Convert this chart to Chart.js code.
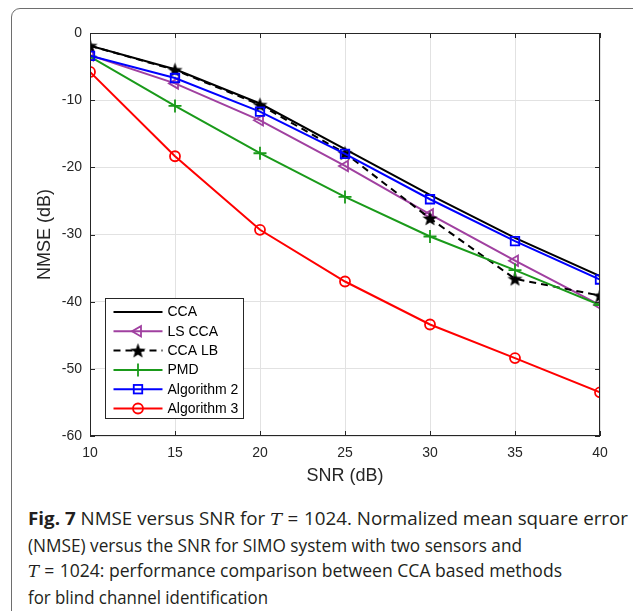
<!DOCTYPE html>
<html>
<head>
<meta charset="utf-8">
<script src="https://cdn.jsdelivr.net/npm/chart.js@4"></script>
<style>
  html, body { margin:0; padding:0; background:#fff; width:633px; height:611px; overflow:hidden; }
  #frame { position:absolute; left:11px; top:8px; width:640px; height:640px; border:1px solid #6e6e6e; border-radius:9px; box-sizing:border-box; }
  #wrap { position:absolute; left:0; top:0; width:633px; height:500px; }
  #cap { position:absolute; left:28px; top:506px; font-family:'Open Sans', sans-serif; font-size:18px; line-height:25.6px; color:#231f20; }
  #cap .ln { white-space:nowrap; width:max-content; transform-origin:0 50%; }
  #cap b { font-weight:700; }
  #cap i { font-family:'DejaVu Serif', serif; font-style:italic; font-size:17px; }
  #cap .eq { padding:0 0.3em; }
</style>
</head>
<body>
<div id="frame"></div>
<div id="wrap"><canvas id="c" width="633" height="500"></canvas></div>
<div id="cap">
  <div class="ln"><b>Fig. 7</b> NMSE versus SNR for <i>T</i><span class="eq">=</span>1024. Normalized mean square error</div>
  <div class="ln">(NMSE) versus the SNR for SIMO system with two sensors and</div>
  <div class="ln"><i>T</i><span class="eq">=</span>1024: performance comparison between CCA based methods</div>
  <div class="ln">for blind channel identification</div>
</div>
<script>
// ---- data ----
const snr = [10, 15, 20, 25, 30, 35, 40];
const seriesNames = ['CCA', 'LS CCA', 'CCA LB', 'PMD', 'Algorithm 2', 'Algorithm 3'];
const cca   = [-1.9, -5.4, -10.5, -17.3, -24.1, -30.5, -36.2];
const lsCca = [-3.3, -7.5, -13.0, -19.8, -27.0, -33.9, -40.5];
const ccaLb = [-1.9, -5.5, -10.7, -17.9, -27.6, -36.6, -39.1];
const pmd   = [-3.5, -10.85, -17.9, -24.4, -30.3, -35.3, -40.5];
const alg2  = [-3.4, -6.7, -11.7, -18.0, -24.75, -31.0, -36.7];
const alg3  = [-5.8, -18.35, -29.3, -37.0, -43.4, -48.4, -53.5];
const xTicks = [10, 15, 20, 25, 30, 35, 40];
const yTicks = [0, -10, -20, -30, -40, -50, -60];

// star marker image
function makeStar(){
  const s = 17, cv = document.createElement('canvas');
  cv.width = s; cv.height = s;
  const g = cv.getContext('2d');
  g.fillStyle = '#000';
  g.beginPath();
  const cx = s/2, cy = s/2 + 0.6, R = 8, r = 3.3;
  for (let k = 0; k < 10; k++) {
    const a = -Math.PI/2 + k*Math.PI/5;
    const rr = k % 2 ? r : R;
    const px = cx + rr*Math.cos(a), py = cy + rr*Math.sin(a);
    k ? g.lineTo(px, py) : g.moveTo(px, py);
  }
  g.closePath(); g.fill();
  return cv;
}
const starImg = makeStar();

const styles = [
  {color:'#000000', dash:[], point:false},
  {color:'#a040a0', dash:[], point:'triangle', rot:-90, r:6},
  {color:'#000000', dash:[7,5], point:starImg, r:8},
  {color:'#1a9a1a', dash:[], point:'cross', r:6.5},
  {color:'#0000ff', dash:[], point:'rect', r:6},
  {color:'#ff0000', dash:[], point:'circle', r:5}
];
const seriesData = [cca, lsCca, ccaLb, pmd, alg2, alg3];

const datasets = seriesData.map((vals, i) => {
  const st = styles[i];
  return {
    label: seriesNames[i],
    data: vals.map((v, j) => ({x: snr[j], y: v})),
    borderColor: st.color,
    backgroundColor: st.color,
    borderWidth: 2,
    borderDash: st.dash,
    pointStyle: st.point || 'circle',
    pointRadius: st.point ? st.r : 0,
    pointRotation: st.rot || 0,
    pointBorderColor: st.color,
    pointBackgroundColor: 'rgba(0,0,0,0)',
    pointBorderWidth: 1.8,
    tension: 0,
    fill: false,
    order: 5 - i
  };
});

const axisColor = '#262626';
const tickFont = {family: "'Liberation Sans', Arial, sans-serif", size: 14};
const titleFont = {family: "'Liberation Sans', Arial, sans-serif", size: 18};

function drawMarker(ctx, st, x, y) {
  ctx.save();
  ctx.strokeStyle = st.color; ctx.lineWidth = 1.8; ctx.setLineDash([]);
  if (st.point === 'triangle') {
    ctx.translate(x, y); ctx.rotate(-Math.PI/2);
    const r = st.r;
    ctx.beginPath();
    ctx.moveTo(0, -r);
    ctx.lineTo(r*Math.cos(Math.PI/6), r*0.5);
    ctx.lineTo(-r*Math.cos(Math.PI/6), r*0.5);
    ctx.closePath(); ctx.stroke();
  } else if (st.point === 'cross') {
    ctx.beginPath();
    ctx.moveTo(x - st.r, y); ctx.lineTo(x + st.r, y);
    ctx.moveTo(x, y - st.r); ctx.lineTo(x, y + st.r);
    ctx.stroke();
  } else if (st.point === 'rect') {
    const h = st.r*Math.SQRT1_2;
    ctx.strokeRect(x - h, y - h, 2*h, 2*h);
  } else if (st.point === 'circle') {
    ctx.beginPath(); ctx.arc(x, y, st.r, 0, Math.PI*2); ctx.stroke();
  } else if (st.point) {
    ctx.drawImage(st.point, x - st.point.width/2, y - st.point.height/2);
  }
  ctx.restore();
}

const boxPlugin = {
  id: 'boxPlugin',
  afterDatasetsDraw(chart) {
    const {ctx, chartArea: a, scales} = chart;
    ctx.save();
    ctx.strokeStyle = axisColor; ctx.lineWidth = 1;
    ctx.beginPath();
    ctx.moveTo(a.left + 0.5, a.top + 0.5); ctx.lineTo(a.right - 0.5, a.top + 0.5); ctx.lineTo(a.right - 0.5, a.bottom);
    ctx.moveTo(a.left + 0.5, a.top); ctx.lineTo(a.left + 0.5, a.bottom - 0.5); ctx.lineTo(a.right, a.bottom - 0.5);
    const tl = 5;
    xTicks.forEach(v => {
      const px = Math.round(scales.x.getPixelForValue(v)) + 0.5;
      ctx.moveTo(px, a.bottom); ctx.lineTo(px, a.bottom - tl);
      ctx.moveTo(px, a.top); ctx.lineTo(px, a.top + tl);
    });
    yTicks.forEach(v => {
      const py = Math.round(scales.y.getPixelForValue(v)) + 0.5;
      ctx.moveTo(a.left, py); ctx.lineTo(a.left + tl, py);
      ctx.moveTo(a.right, py); ctx.lineTo(a.right - tl, py);
    });
    ctx.stroke();

    // legend
    const lx = a.left + 15.5, ly = a.top + 265.5, lw = 138, lh = 120;
    ctx.fillStyle = '#fff';
    ctx.fillRect(lx, ly, lw, lh);
    ctx.strokeStyle = axisColor;
    ctx.strokeRect(lx, ly, lw, lh);
    ctx.font = "14px 'Liberation Sans', Arial, sans-serif";
    ctx.textBaseline = 'middle';
    seriesNames.forEach((name, i) => {
      const st = styles[i];
      const y = ly + 13.5 + i*19.3;
      ctx.strokeStyle = st.color; ctx.lineWidth = 2;
      ctx.setLineDash(st.dash);
      ctx.beginPath(); ctx.moveTo(lx + 8, y); ctx.lineTo(lx + 57, y); ctx.stroke();
      ctx.setLineDash([]);
      drawMarker(ctx, st, lx + 32.5, y);
      ctx.fillStyle = '#000';
      ctx.fillText(name, lx + 62, y + 0.5);
    });
    ctx.restore();
  }
};

new Chart(document.getElementById('c'), {
  type: 'line',
  data: { datasets },
  options: {
    responsive: false,
    animation: false,
    events: [],
    layout: { padding: {top: 33, right: 33, left: 0, bottom: 0} },
    plugins: { legend: {display: false}, tooltip: {enabled: false} },
    scales: {
      x: {
        type: 'linear', min: 10, max: 40,
        afterFit(s) { s.height = 64; },
        afterBuildTicks(s) { s.ticks = xTicks.map(v => ({value: v})); },
        grid: { color: '#e2e2e2', lineWidth: 1, drawTicks: false },
        border: { display: false },
        ticks: { color: axisColor, font: tickFont, padding: 9, maxRotation: 0 },
        title: { display: true, text: 'SNR (dB)', color: axisColor, font: titleFont, padding: {top: 0, bottom: 13.2} }
      },
      y: {
        type: 'linear', min: -60, max: 0,
        afterFit(s) { s.width = 90; },
        afterBuildTicks(s) { s.ticks = yTicks.map(v => ({value: v})); },
        grid: { color: '#e2e2e2', lineWidth: 1, drawTicks: false },
        border: { display: false },
        ticks: { color: axisColor, font: tickFont, padding: 8 },
        title: { display: true, text: 'NMSE (dB)', color: axisColor, font: titleFont, padding: {top: 34.2, bottom: 0} }
      }
    }
  },
  plugins: [boxPlugin]
});

// fit each caption line to the width it has in the reference
(function(){
  const targets = [600, 494, 534, 240];
  document.querySelectorAll('#cap .ln').forEach((l, i) => {
    const w = l.getBoundingClientRect().width;
    l.style.transform = 'scaleX(' + (targets[i] / w) + ')';
  });
})();
</script>
</body>
</html>
